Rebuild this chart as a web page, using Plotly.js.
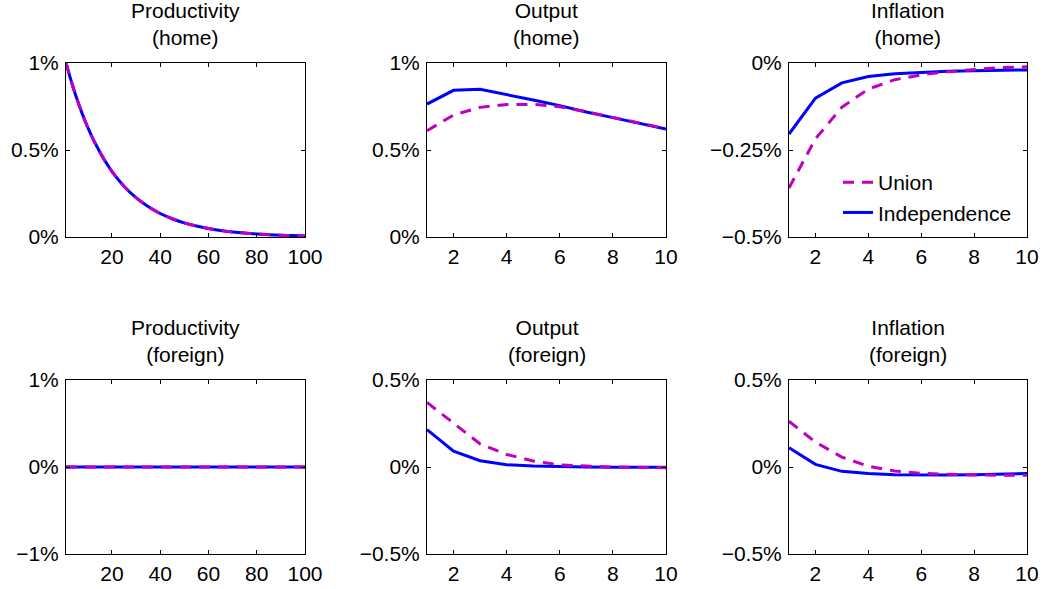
<!DOCTYPE html>
<html>
<head>
<meta charset="utf-8">
<script src="https://cdn.plot.ly/plotly-3.0.1.min.js"></script>
<style>html,body{margin:0;padding:0;background:#fff;}#chart{width:1053px;height:589px;}</style>
</head>
<body>
<div id="chart"></div>
<script>
// ---- data (percent deviations) ----
const periodsLong = [1,5,10,15,20,25,30,35,40,45,50,55,60,65,70,75,80,85,90,95,100];
const prodHomeUnion = [1.00,0.815,0.63,0.488,0.377,0.292,0.226,0.175,0.135,0.105,0.081,0.063,0.0485,0.0375,0.029,0.0225,0.0174,0.0135,0.0104,0.0081,0.0062];
const prodHomeIndep = [1.00,0.815,0.63,0.488,0.377,0.292,0.226,0.175,0.135,0.105,0.081,0.063,0.0485,0.0375,0.029,0.0225,0.0174,0.0135,0.0104,0.0081,0.0062];
const prodForeignUnion = [0,0,0,0,0,0,0,0,0,0,0,0,0,0,0,0,0,0,0,0,0];
const prodForeignIndep = [0,0,0,0,0,0,0,0,0,0,0,0,0,0,0,0,0,0,0,0,0];

const periods = [1,2,3,4,5,6,7,8,9,10];
const outputHomeUnion = [0.611,0.701,0.745,0.762,0.762,0.749,0.720,0.688,0.656,0.622];
const outputHomeIndep = [0.764,0.843,0.849,0.820,0.787,0.755,0.718,0.686,0.653,0.621];
const inflHomeUnion = [-0.359,-0.218,-0.127,-0.075,-0.048,-0.034,-0.025,-0.018,-0.013,-0.011];
const inflHomeIndep = [-0.204,-0.101,-0.057,-0.039,-0.031,-0.027,-0.024,-0.022,-0.021,-0.020];
const outputForeignUnion = [0.371,0.251,0.133,0.072,0.035,0.012,0.004,0.000,-0.002,-0.004];
const outputForeignIndep = [0.215,0.091,0.036,0.013,0.006,0.002,0.000,-0.001,-0.002,-0.002];
const inflForeignUnion = [0.263,0.143,0.057,0.004,-0.023,-0.036,-0.042,-0.046,-0.048,-0.048];
const inflForeignIndep = [0.111,0.015,-0.025,-0.038,-0.044,-0.046,-0.046,-0.044,-0.042,-0.038];

const panelTitles = ['Productivity<br>(home)','Output<br>(home)','Inflation<br>(home)',
                     'Productivity<br>(foreign)','Output<br>(foreign)','Inflation<br>(foreign)'];
const xTickVals = [[20,40,60,80,100],[2,4,6,8,10],[2,4,6,8,10],[20,40,60,80,100],[2,4,6,8,10],[2,4,6,8,10]];
const yTickVals = [[0,0.5,1],[0,0.5,1],[-0.5,-0.25,0],[-1,0,1],[-0.5,0,0.5],[-0.5,0,0.5]];
const yTickText = [['0%','0.5%','1%'],['0%','0.5%','1%'],['\u22120.5%','\u22120.25%','0%'],
                   ['\u22121%','0%','1%'],['\u22120.5%','0%','0.5%'],['\u22120.5%','0%','0.5%']];
const yRanges = [[0,1],[0,1],[-0.5,0],[-1,1],[-0.5,0.5],[-0.5,0.5]];
const xRanges = [[1,100],[1,10],[1,10],[1,100],[1,10],[1,10]];

// ---- styling ----
const W = 1053, H = 589;
const colPx = [[66,305],[427,666],[789,1027]];
const rowPx = [[63,237],[380,554]];
const FONT = 'Liberation Sans, Arial, Helvetica, sans-serif';
const FS = 21;
const BLUE = '#0000ff', MAG = '#bf00bf';

const series = [
  [periodsLong, prodHomeUnion, prodHomeIndep, 'spline'],
  [periods, outputHomeUnion, outputHomeIndep, 'linear'],
  [periods, inflHomeUnion, inflHomeIndep, 'linear'],
  [periodsLong, prodForeignUnion, prodForeignIndep, 'linear'],
  [periods, outputForeignUnion, outputForeignIndep, 'linear'],
  [periods, inflForeignUnion, inflForeignIndep, 'linear']
];

const traces = [];
const layout = {
  width: W, height: H,
  margin: {l:0, r:0, t:0, b:0},
  paper_bgcolor: '#fff', plot_bgcolor: '#fff',
  font: {family: FONT, size: FS, color: '#000'},
  showlegend: true,
  legend: {
    x: 838/W, y: 1 - 162/H, xanchor: 'left', yanchor: 'top',
    bgcolor: 'rgba(0,0,0,0)', borderwidth: 0,
    traceorder: 'reversed',
    font: {family: FONT, size: FS, color: '#000'}
  },
  annotations: []
};

for (let i = 0; i < 6; i++) {
  const r = Math.floor(i/3), c = i % 3;
  const xa = 'xaxis' + (i ? i+1 : ''), ya = 'yaxis' + (i ? i+1 : '');
  const xr = 'x' + (i ? i+1 : ''), yr = 'y' + (i ? i+1 : '');
  const axCommon = {
    showline: true, linecolor: '#000', linewidth: 1, mirror: 'ticks',
    ticks: 'inside', ticklen: 4, tickwidth: 1, tickcolor: '#000',
    showgrid: false, zeroline: false, fixedrange: true,
    tickfont: {family: FONT, size: FS, color: '#000'}
  };
  layout[xa] = Object.assign({}, axCommon, {
    domain: [colPx[c][0]/W, colPx[c][1]/W], anchor: yr,
    range: xRanges[i], tickmode: 'array', tickvals: xTickVals[i],
    ticktext: xTickVals[i].map(String), ticklabelstandoff: 1
  });
  layout[ya] = Object.assign({}, axCommon, {
    domain: [1 - rowPx[r][1]/H, 1 - rowPx[r][0]/H], anchor: xr,
    range: yRanges[i], tickmode: 'array', tickvals: yTickVals[i],
    ticktext: yTickText[i], ticklabelstandoff: 2
  });
  const s = series[i];
  traces.push({
    x: s[0], y: s[2], xaxis: xr, yaxis: yr, type: 'scatter', mode: 'lines',
    name: 'Independence', showlegend: i === 2, legendgroup: 'indep',
    line: {color: BLUE, width: 3, shape: s[3]}, hoverinfo: 'skip'
  });
  traces.push({
    x: s[0], y: s[1], xaxis: xr, yaxis: yr, type: 'scatter', mode: 'lines',
    name: 'Union', showlegend: i === 2, legendgroup: 'union',
    line: {color: MAG, width: 3, dash: '11px,8px', shape: s[3]}, hoverinfo: 'skip'
  });
  layout.annotations.push({
    text: panelTitles[i], xref: 'paper', yref: 'paper',
    x: (colPx[c][0] + colPx[c][1]) / 2 / W, y: 1 - rowPx[r][0]/H,
    xanchor: 'center', yanchor: 'bottom', yshift: 12, showarrow: false,
    align: 'center', font: {family: FONT, size: FS, color: '#000'}
  });
}

Plotly.newPlot('chart', traces, layout, {displayModeBar: false, staticPlot: true});
</script>
</body>
</html>
